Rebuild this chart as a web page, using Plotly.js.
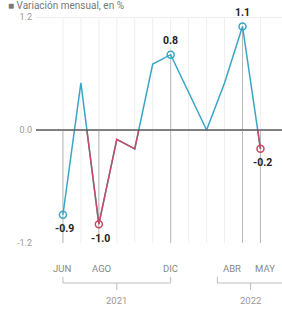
<!DOCTYPE html>
<html><head><meta charset="utf-8">
<script src="https://cdn.plot.ly/plotly-3.0.1.min.js"></script>
<style>html,body{margin:0;padding:0;background:#fff}#chart{width:282px;height:311px}</style>
</head><body><div id="chart"></div>
<script>
// ---- data ----
const months = ['JUN','JUL','AGO','SEP','OCT','NOV','DIC','ENE','FEB','MAR','ABR','MAY'];
const values = [-0.9, 0.5, -1.0, -0.1, -0.2, 0.7, 0.8, 0.4, 0.0, 0.5, 1.1, -0.2];
const labeledMonths = ['JUN','AGO','DIC','ABR','MAY'];
const yTickVals = [1.2, 0.0, -1.2];
const yTickText = ['1.2', '0.0', '-1.2'];
const years = ['2021', '2022'];
const yearFirstMonth = ['JUN', 'ENE'];
const yearLastMonth = ['DIC', 'MAY'];
const titleText = '\u25A0 Variación mensual, en %';

// ---- styles ----
const BLUE = '#3aa6c6', RED = '#c84a62';
const W = 282, H = 311, ML = 36, MR = 0, MT = 8, MB = 68;
const plotH = H - MT - MB;
const py = px => (H - MB - px) / plotH;           // pixel row -> paper y
const xs = months.map((m, i) => i);
const idx = m => months.indexOf(m);

// red overlay: parts below zero after the first segment
const rx = [], ry = [];
for (let i = 1; i < values.length - 1; i++) {
  const a = values[i], b = values[i + 1];
  if (a < 0 && b < 0) { rx.push(i, i + 1); ry.push(a, b); }
  else if (a < 0 && b >= 0) { const t = a / (a - b); rx.push(i, i + t, null); ry.push(a, 0, null); }
  else if (a >= 0 && b < 0) { const t = a / (a - b); rx.push(i + t, i + 1); ry.push(0, b); }
}

const labIdx = labeledMonths.map(idx);
const labColor = labIdx.map(i => (values[i] < 0 && i > 0) ? RED : BLUE);

const traces = [
  {x: xs, y: values, mode: 'lines', line: {color: BLUE, width: 1.5}, hoverinfo: 'skip', cliponaxis: false},
  {x: rx, y: ry, mode: 'lines', line: {color: RED, width: 1.5}, connectgaps: false, hoverinfo: 'skip', cliponaxis: false},
  {x: labIdx, y: labIdx.map(i => values[i]), mode: 'markers', cliponaxis: false,
   marker: {symbol: 'circle-open', size: 7, color: labColor, line: {width: 1.5, color: labColor}}, hoverinfo: 'skip'}
];

const shapes = [];
// faint monthly gridlines
xs.forEach(i => shapes.push({type: 'line', xref: 'x', yref: 'y', x0: i, x1: i, y0: -1.2, y1: 1.2,
  line: {color: '#f1eef0', width: 1}, layer: 'below'}));
// drop lines for labelled months
labIdx.forEach(i => shapes.push({type: 'line', xref: 'x', yref: 'y', x0: i, x1: i, y0: -1.2, y1: Math.max(values[i], 0),
  line: {color: '#b8b8b8', width: 1}, layer: 'below'}));
// zero line
shapes.push({type: 'line', xref: 'paper', yref: 'y', x0: 0, x1: 1, y0: 0, y1: 0, line: {color: '#5a5a5a', width: 1.6}});
// year brackets
const yb = py(283), yt = py(277), yd = py(290);
const bracket = k => {
  let a = idx(yearFirstMonth[k]), b = idx(yearLastMonth[k]);
  if (k === 1) { a = a + 1.6; b = b + 1.3; }
  return [a, b];
};
years.forEach((yr, k) => {
  const [a, b] = bracket(k), c = (a + b) / 2;
  shapes.push({type: 'line', xref: 'x', yref: 'paper', x0: a, x1: b, y0: yb, y1: yb, line: {color: '#bbb', width: 1}});
  shapes.push({type: 'line', xref: 'x', yref: 'paper', x0: a, x1: a, y0: yb, y1: yt, line: {color: '#bbb', width: 1}});
  shapes.push({type: 'line', xref: 'x', yref: 'paper', x0: b, x1: b, y0: yb, y1: yt, line: {color: '#bbb', width: 1}});
  shapes.push({type: 'line', xref: 'x', yref: 'paper', x0: c, x1: c, y0: yb, y1: yd, line: {color: '#bbb', width: 1}});
});

const annotations = [];
// value labels
labIdx.forEach(i => {
  const v = values[i];
  annotations.push({x: i, y: v, xref: 'x', yref: 'y', text: '<b>' + v.toFixed(1) + '</b>', showarrow: false,
    yshift: v >= 0 ? 14 : -14, xshift: v < 0 ? 2 : 0,
    font: {family: 'Roboto, Arial, sans-serif', size: 10.5, color: '#222'}});
});
// month labels
const monthShift = {JUN: -1, AGO: 3, DIC: 0, ABR: -11, MAY: 5};
labeledMonths.forEach(m => annotations.push({x: idx(m), y: py(268), xref: 'x', yref: 'paper', text: m, showarrow: false,
  xshift: monthShift[m], yanchor: 'middle', font: {family: 'Roboto, Arial, sans-serif', size: 9.5, color: '#888'}}));
// year labels
years.forEach((yr, k) => {
  const [a, b] = bracket(k);
  annotations.push({x: (a + b) / 2, y: py(300), xref: 'x', yref: 'paper', text: yr, showarrow: false, yanchor: 'middle',
    font: {family: 'Roboto, Arial, sans-serif', size: 9.5, color: '#999'}});
});
// title
annotations.push({x: (6 - ML) / (W - ML - MR), y: py(5), xref: 'paper', yref: 'paper', xanchor: 'left', yanchor: 'middle',
  text: titleText, showarrow: false, font: {family: 'Roboto, Arial, sans-serif', size: 10, color: '#777'}});

const layout = {
  width: W, height: H, margin: {l: ML, r: MR, t: MT, b: MB},
  paper_bgcolor: '#fff', plot_bgcolor: '#fff', showlegend: false,
  xaxis: {range: [-1.5, 12.2], showgrid: false, zeroline: false, showticklabels: false, ticks: '', fixedrange: true},
  yaxis: {range: [-1.2, 1.2 + 9 / 94.17], tickvals: yTickVals, ticktext: yTickText, showgrid: true, gridcolor: '#ececec',
    gridwidth: 1, zeroline: false, ticks: '', ticklabelstandoff: 3,
    tickfont: {family: 'Roboto, Arial, sans-serif', size: 9, color: '#999'}},
  shapes: shapes, annotations: annotations
};
Plotly.newPlot('chart', traces, layout, {staticPlot: true, displayModeBar: false});
</script></body></html>
